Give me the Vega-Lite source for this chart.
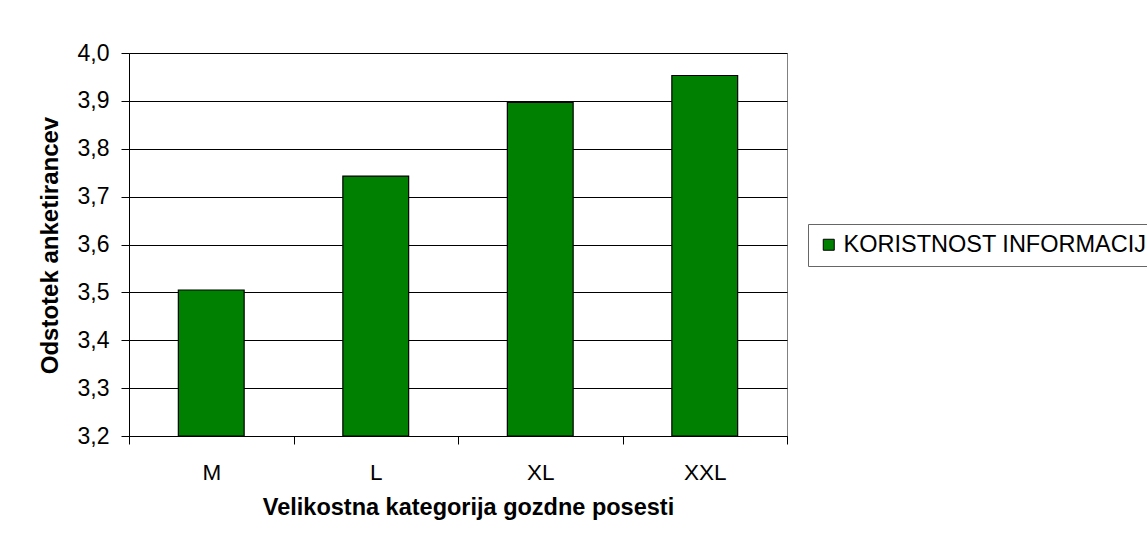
{
  "$schema": "https://vega.github.io/schema/vega-lite/v6.json",
  "autosize": {"type": "none"},
  "padding": {"left": 129, "top": 53, "right": 360, "bottom": 113},
  "width": 658,
  "height": 383,
  "background": "#ffffff",
  "config": {
    "font": "Liberation Sans",
    "view": {"stroke": "#808080", "strokeWidth": 1}
  },
  "data": {
    "values": [
      {"kategorija": "M", "vrednost": 3.505, "serija": "KORISTNOST INFORMACIJ"},
      {"kategorija": "L", "vrednost": 3.743, "serija": "KORISTNOST INFORMACIJ"},
      {"kategorija": "XL", "vrednost": 3.897, "serija": "KORISTNOST INFORMACIJ"},
      {"kategorija": "XXL", "vrednost": 3.953, "serija": "KORISTNOST INFORMACIJ"}
    ]
  },
  "mark": {"type": "bar", "stroke": "#000000", "strokeWidth": 1.2, "width": {"band": 0.4}},
  "encoding": {
    "x": {
      "field": "kategorija",
      "type": "nominal",
      "sort": ["M", "L", "XL", "XXL"],
      "scale": {"paddingInner": 0, "paddingOuter": 0},
      "axis": {
        "title": "Velikostna kategorija gozdne posesti",
        "labelAngle": 0,
        "labelFontSize": 22.5,
        "labelColor": "#000000",
        "labelBaseline": "alphabetic",
        "labelPadding": 35,
        "tickBand": "extent",
        "tickSize": 8,
        "tickColor": "#000000",
        "domainColor": "#000000",
        "titleFontSize": 23.5,
        "titleFontWeight": "bold",
        "titleColor": "#000000",
        "titleBaseline": "alphabetic",
        "titleY": 78,
        "titleX": 339,
        "grid": false
      }
    },
    "y": {
      "field": "vrednost",
      "type": "quantitative",
      "scale": {"domain": [3.2, 4.0], "nice": false, "zero": false},
      "axis": {
        "title": "Odstotek anketirancev",
        "values": [3.2, 3.3, 3.4, 3.5, 3.6, 3.7, 3.8, 3.9, 4.0],
        "labelExpr": "replace(format(datum.value, '.1f'), '.', ',')",
        "labelFontSize": 23,
        "labelColor": "#000000",
        "labelPadding": 12,
        "tickSize": 8,
        "tickColor": "#000000",
        "domainColor": "#000000",
        "grid": true,
        "gridColor": "#000000",
        "gridOpacity": 1,
        "titleFontSize": 24,
        "titleFontWeight": "bold",
        "titleColor": "#000000",
        "titleBaseline": "alphabetic",
        "titleX": -72,
        "titleY": 192
      }
    },
    "y2": {"datum": 3.2},
    "color": {
      "field": "serija",
      "type": "nominal",
      "scale": {"domain": ["KORISTNOST INFORMACIJ"], "range": ["#008000"]},
      "legend": {
        "title": null,
        "orient": "none",
        "legendX": 679,
        "legendY": 171,
        "padding": 9,
        "strokeColor": "#666666",
        "fillColor": "#ffffff",
        "symbolType": "square",
        "symbolSize": 121,
        "symbolStrokeColor": "#000000",
        "symbolStrokeWidth": 1,
        "symbolOpacity": 1,
        "labelFontSize": 23.5,
        "labelColor": "#000000",
        "labelOffset": 3,
        "labelLimit": 400
      }
    }
  }
}
